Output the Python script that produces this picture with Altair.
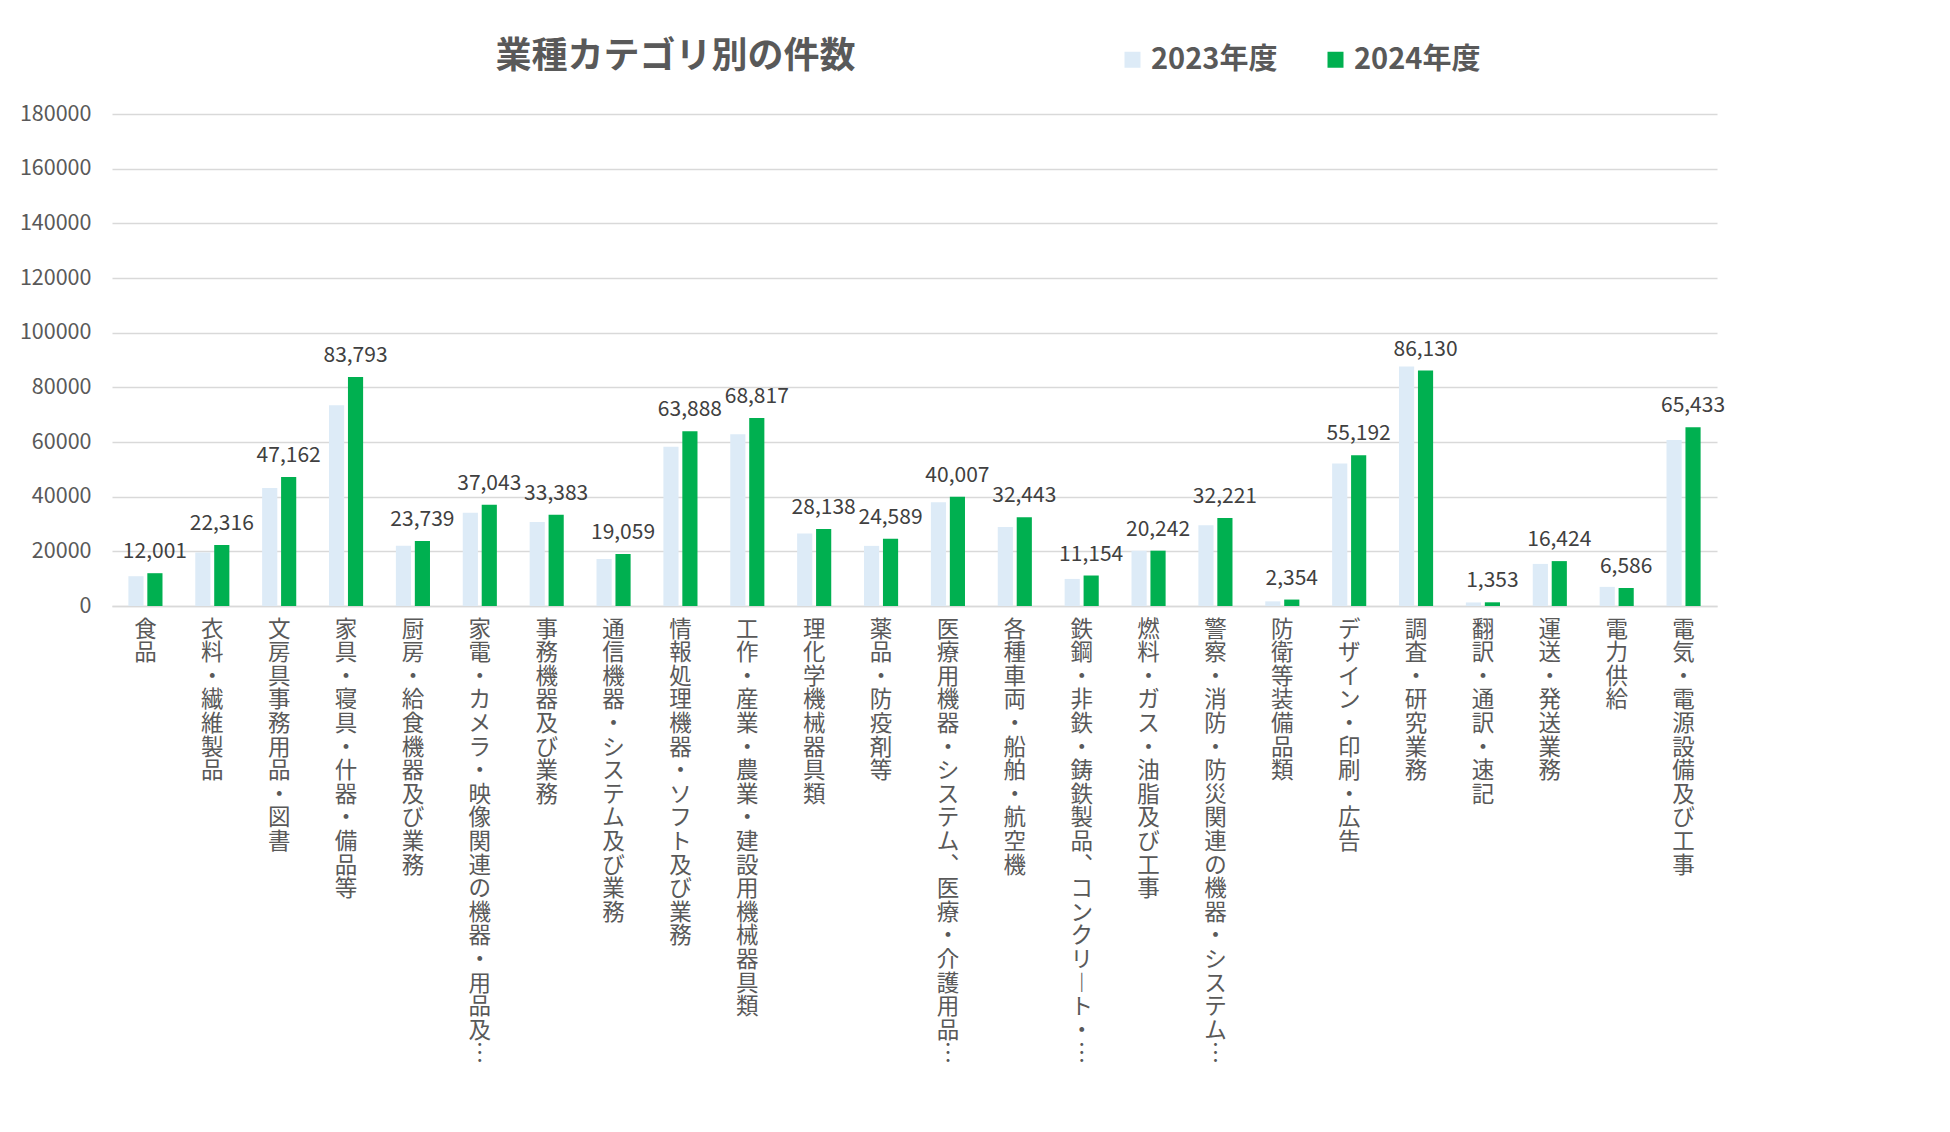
import altair as alt
import pandas as pd

categories = [
    "食品", "衣料・繊維製品", "文房具事務用品・図書", "家具・寝具・什器・備品等",
    "厨房・給食機器及び業務", "家電・カメラ・映像関連の機器・用品及…", "事務機器及び業務",
    "通信機器・システム及び業務", "情報処理機器・ソフト及び業務", "工作・産業・農業・建設用機械器具類",
    "理化学機械器具類", "薬品・防疫剤等", "医療用機器・システム、医療・介護用品…",
    "各種車両・船舶・航空機", "鉄鋼・非鉄・鋳鉄製品、コンクリート・…", "燃料・ガス・油脂及び工事",
    "警察・消防・防災関連の機器・システム…", "防衛等装備品類", "デザイン・印刷・広告",
    "調査・研究業務", "翻訳・通訳・速記", "運送・発送業務", "電力供給", "電気・電源設備及び工事",
]
values_2023 = [10900, 19600, 43200, 73400, 22000, 34100, 30700, 17200, 58300, 62800,
               26500, 22000, 38000, 28900, 9900, 20200, 29500, 1700, 52100, 87600,
               1300, 15400, 7000, 60700]
values_2024 = [12001, 22316, 47162, 83793, 23739, 37043, 33383, 19059, 63888, 68817,
               28138, 24589, 40007, 32443, 11154, 20242, 32221, 2354, 55192, 86130,
               1353, 16424, 6586, 65433]
series = ["2023年度", "2024年度"]
colors = ["#DDEBF7", "#00B050"]
y_ticks = [0, 20000, 40000, 60000, 80000, 100000, 120000, 140000, 160000, 180000]

rows = []
for c, a, b in zip(categories, values_2023, values_2024):
    rows.append({"category": c, "series": series[0], "value": a})
    rows.append({"category": c, "series": series[1], "value": b})
df = pd.DataFrame(rows)

FONT = "Noto Sans CJK JP"
GRAY = "#595959"

label_expr = ("split(replace(replace(replace(datum.label,'…','︙'),'、','︑'),'ー','︱'), '')")

x_enc = alt.X(
    "category:N", sort=categories, title=None,
    scale=alt.Scale(paddingInner=0.49, paddingOuter=0.245),
    axis=alt.Axis(labelAngle=0, labelBaseline="top", labelAlign="center",
                  labelExpr=label_expr, labelLineHeight=23.6, labelFontSize=22.5,
                  labelFont=FONT, labelColor=GRAY, labelPadding=12, labelOverlap=False,
                  labelBound=False, ticks=False, domainColor="#d9d9d9", domainWidth=1.5,
                  grid=False),
)
xo_enc = alt.XOffset("series:N", sort=series, scale=alt.Scale(paddingInner=0.2, paddingOuter=0))
y_enc = alt.Y(
    "value:Q", title=None,
    scale=alt.Scale(domain=[0, 180000], nice=False),
    axis=alt.Axis(values=y_ticks, format="d", labelFontSize=21.5, labelFont=FONT,
                  labelColor=GRAY, labelPadding=21, ticks=False, domain=False,
                  gridColor="#d9d9d9", gridWidth=1.5),
)

bars = alt.Chart(df).mark_bar().encode(
    x=x_enc, xOffset=xo_enc, y=y_enc,
    color=alt.Color(
        "series:N", sort=series,
        scale=alt.Scale(domain=series, range=colors),
        legend=alt.Legend(
            title=None, orient="none", legendX=1006, legendY=-69, direction="horizontal",
            symbolType="square", symbolSize=256, symbolStrokeWidth=0, labelFontSize=29,
            labelFontWeight="bold", labelFont=FONT, labelColor=GRAY, labelOffset=4,
            columnPadding=43, padding=0,
        ),
    ),
)

labels = alt.Chart(df).transform_filter(
    alt.datum.series == series[1]
).mark_text(baseline="alphabetic", dy=-15, fontSize=21, font=FONT, color="#404040").encode(
    x=alt.X("category:N", sort=categories),
    xOffset=alt.XOffset("series:N", sort=series),
    y=alt.Y("value:Q"),
    text=alt.Text("value:Q", format=","),
)

chart = alt.layer(bars, labels).properties(
    width=1605, height=492,
    title=alt.TitleParams("業種カテゴリ別の件数", anchor="start", dx=476, fontSize=36,
                          font=FONT, fontWeight="bold", color=GRAY, offset=-31),
    autosize=alt.AutoSizeParams(type="none"),
    padding={"left": 104, "top": 106, "right": 225, "bottom": 510},
).configure(background="white").configure_view(stroke=None)

chart.save("out.html", embed_options={"renderer": "svg", "actions": False})
